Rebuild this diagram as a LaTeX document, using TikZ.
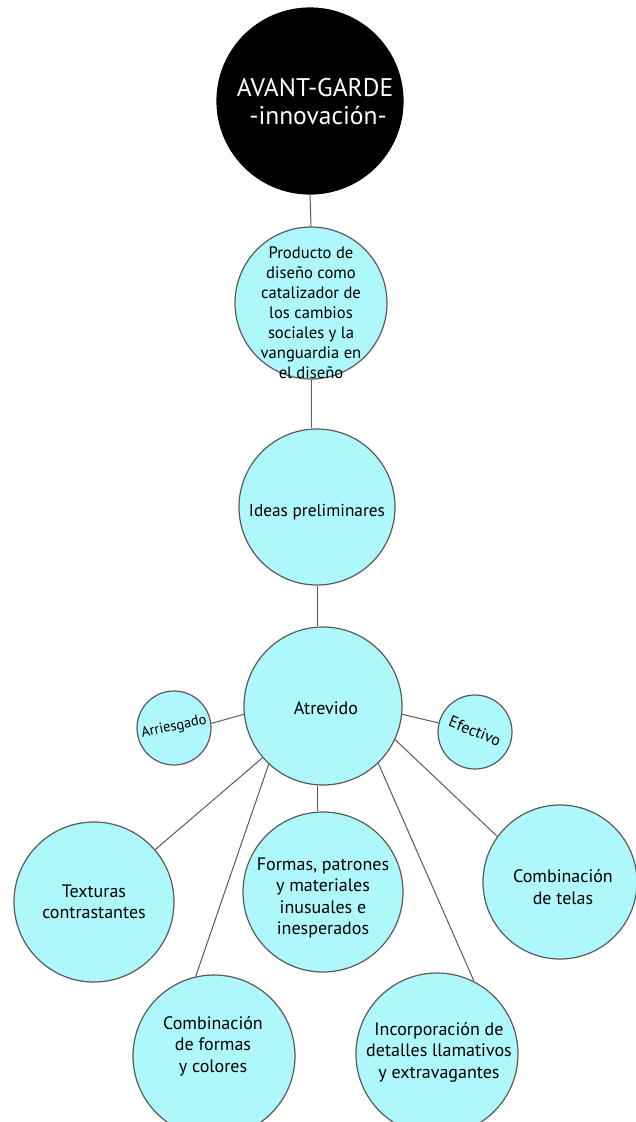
\documentclass[tikz,border=0pt]{standalone}
\usepackage{fontspec}
\setmainfont{PT Sans}
\definecolor{cfill}{HTML}{AEF7FB}
\definecolor{cline}{HTML}{5A5A5A}
\definecolor{ctext}{HTML}{000000}
\begin{document}
\begin{tikzpicture}[x=1pt,y=-1pt,
  bub/.style={circle, draw=cline, line width=1.2pt, fill=cfill, inner sep=0pt, minimum size=#1},
  txt/.style={align=center, font=\fontsize{18}{21.5}\selectfont, text=ctext, inner sep=0pt},
  conn/.style={draw=cline, line width=1pt}]
\useasboundingbox (0,0) rectangle (636,1122);
% circles
\node[bub=186pt, fill=black, draw=black] (top) at (310,101) {};
\node[bub=152pt] (prod) at (311,303) {};
\node[bub=156pt] (ideas) at (317,507) {};
\node[bub=158pt] (atr) at (323,706) {};
\node[bub=74pt] (arr) at (174,728) {};
\node[bub=74pt] (efe) at (475,732) {};
\node[bub=160pt] (tex) at (94,902) {};
\node[bub=160pt] (for) at (323,892) {};
\node[bub=154pt] (tel) at (560,882) {};
\node[bub=162pt] (cfc) at (214,1056) {};
\node[bub=162pt] (inc) at (437,1054) {};
% connectors
\draw[conn] (top.south) -- (prod.north);
\draw[conn] (prod.south) -- (prod.south |- ideas.north);
\draw[conn] (ideas.south) -- (ideas.south |- atr.north);
\draw[conn] (atr.186.5) -- (arr.7.7);
\draw[conn] (atr.-6.4) -- (efe.166);
\draw[conn] (atr) -- (tex);
\draw[conn] (atr.-133.5) -- (cfc.103.4);
\draw[conn] (ideas.south |- atr.south) -- (ideas.south |- for.north);
\draw[conn] (atr.-46) -- (inc.63.4);
\draw[conn] (atr.-25) -- (tel.144);
% texts
\node[txt, text=white, font=\fontsize{25.5}{28}\selectfont] (ttop) at (315,102) {AVANT-GARDE\\\hspace*{6pt}-innovación-};
\node[txt, font=\fontsize{16.6}{20}\selectfont] (tprod) at (311,313) {Producto de\\diseño como\\catalizador de\\los cambios\\sociales y la\\vanguardia en\\el diseño};
\node[txt, font=\fontsize{17.3}{20}\selectfont] (tideas) at (317,512) {Ideas preliminares};
\node[txt] (tatr) at (326,708) {Atrevido};
\node[txt, rotate=12, font=\fontsize{14.5}{15}\selectfont] (tarr) at (174,727) {Arriesgado};
\node[txt, rotate=-22, font=\fontsize{16}{16}\selectfont] (tefe) at (475,731) {Efectivo};
\node[txt] (ttex) at (94,902) {Texturas\\contrastantes};
\node[txt] (tfor) at (323,898) {Formas, patrones\\y materiales\\inusuales e\\inesperados};
\node[txt] (ttel) at (563,887) {Combinación\\de telas};
\node[txt] (tcfc) at (213,1046) {Combinación\\de formas\\y colores};
\node[txt] (tinc) at (439,1052) {Incorporación de\\detalles llamativos\\y extravagantes};
\end{tikzpicture}
\end{document}
